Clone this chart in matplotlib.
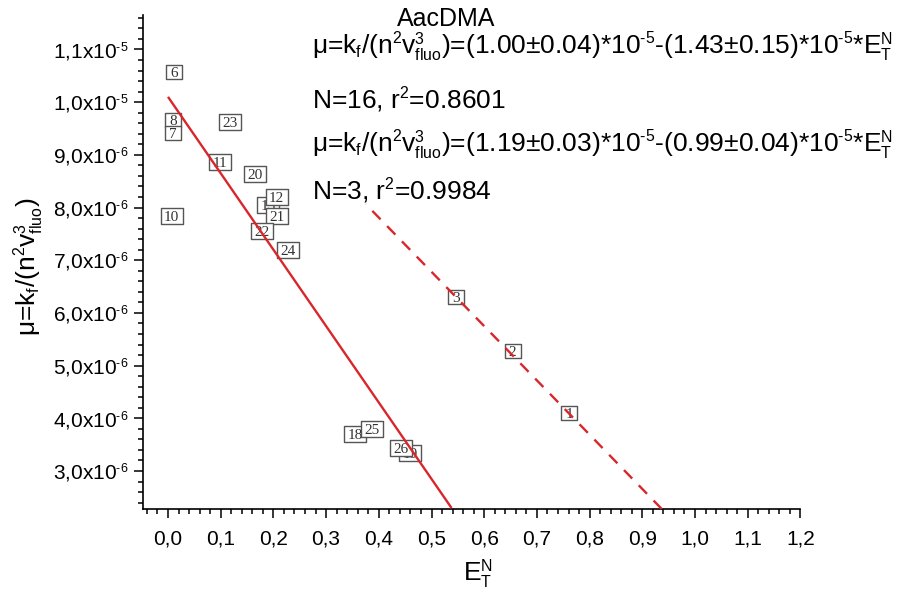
import matplotlib
matplotlib.use("Agg")
import matplotlib.pyplot as plt
from matplotlib.ticker import MultipleLocator, FuncFormatter
from matplotlib.path import Path
import numpy as np
try:
    import matplotlib._mathtext as _mt
    _mt.SHRINK_FACTOR = 0.6
except Exception:
    pass

plt.rcParams['font.family'] = ['Liberation Sans', 'DejaVu Sans']
plt.rcParams['mathtext.fontset'] = 'custom'
plt.rcParams['mathtext.rm'] = 'Liberation Sans'
plt.rcParams['mathtext.it'] = 'Liberation Sans'
plt.rcParams['mathtext.default'] = 'regular'

HY = "\u2010"

# ---- data ----
labels = ['6', '8', '7', '23', '11', '20', '13', '12', '21', '10', '22', '24',
          '18', '25', '19', '26', '3', '2', '1']
et_n = [0.011, 0.009, 0.009, 0.118, 0.099, 0.165, 0.190, 0.206, 0.206, 0.007, 0.179, 0.228,
        0.355, 0.387, 0.459, 0.443, 0.546, 0.654, 0.761]
mu = [1.0575e-5, 9.66e-6, 9.42e-6, 9.63e-6, 8.87e-6, 8.63e-6, 8.05e-6, 8.20e-6, 7.84e-6, 7.84e-6,
      7.55e-6, 7.19e-6, 3.71e-6, 3.79e-6, 3.35e-6, 3.44e-6, 6.31e-6, 5.27e-6, 4.10e-6]

fit1_intercept, fit1_slope = 1.01e-5, -1.45e-5
fit1_x = [0.0, 0.538]
fit2_intercept, fit2_slope = 1.193e-5, -1.03e-5
fit2_x = [0.937, 0.375]

title = "AacDMA"
eq1 = (r"$\mu$=k$_f$/(n$^2$v$^3_{fluo}$)=(1.00$\pm$0.04)*10$^{" + HY + r"5}$-(1.43$\pm$0.15)*10$^{"
       + HY + r"5}$*E$_T^N$")
eq1b = r"N=16, r$^2$=0.8601"
eq2 = (r"$\mu$=k$_f$/(n$^2$v$^3_{fluo}$)=(1.19$\pm$0.03)*10$^{" + HY + r"5}$-(0.99$\pm$0.04)*10$^{"
       + HY + r"5}$*E$_T^N$")
eq2b = r"N=3, r$^2$=0.9984"

fig = plt.figure(figsize=(8.97, 5.93), dpi=100)
ax = fig.add_axes([0.1591, 0.1417, 0.7332, 0.8327])
ax.set_xlim(-0.048, 1.2)
ax.set_ylim(2.28e-6, 1.165e-5)

red = '#d9262b'
sq = Path([(-1, -0.95), (1, -0.95), (1, 0.95), (-1, 0.95), (-1, -0.95)],
          [Path.MOVETO, Path.LINETO, Path.LINETO, Path.LINETO, Path.CLOSEPOLY])
wide = Path([(-1, -0.7), (1, -0.7), (1, 0.7), (-1, 0.7), (-1, -0.7)],
            [Path.MOVETO, Path.LINETO, Path.LINETO, Path.LINETO, Path.CLOSEPOLY])
for i, (lab, x, y) in enumerate(zip(labels, et_n, mu)):
    z = 3 + i * 0.01
    if len(lab) == 1:
        ax.plot([x], [y], marker=sq, ms=11, mfc='white', mec='#555555', mew=1.0, ls='none', zorder=z)
    else:
        ax.plot([x], [y], marker=wide, ms=16, mfc='white', mec='#555555', mew=1.0, ls='none', zorder=z)
    ax.text(x, y, lab, ha='center', va='center_baseline', fontsize=11, family='Liberation Serif',
            color='#333333', zorder=z + 0.005)

x1 = np.array(fit1_x)
ax.plot(x1, fit1_intercept + fit1_slope * x1, color=red, lw=1.7, zorder=5, solid_capstyle='butt')
x2 = np.array(fit2_x)
ax.plot(x2, fit2_intercept + fit2_slope * x2, color=red, lw=1.7, ls=(0, (5, 4)), zorder=5)

for s in ['top', 'right']:
    ax.spines[s].set_visible(False)
for s in ['left', 'bottom']:
    ax.spines[s].set_linewidth(1.2)

ax.xaxis.set_major_locator(MultipleLocator(0.1))
ax.xaxis.set_minor_locator(MultipleLocator(0.02))
ax.yaxis.set_major_locator(MultipleLocator(1e-6))
ax.yaxis.set_minor_locator(MultipleLocator(2e-7))
ax.set_xticks(np.round(np.arange(0, 1.21, 0.1), 1))

ax.xaxis.set_major_formatter(FuncFormatter(lambda v, p: f"{v:.1f}".replace('.', ',')))

def yfmt(v, p):
    if v <= 0:
        return ''
    e = int(np.floor(np.log10(v) + 1e-9))
    m = v / 10**e
    return f"{m:.1f}".replace('.', ',') + r"x10$^{" + HY + f"{-e}" + r"}$"
ax.yaxis.set_major_formatter(FuncFormatter(yfmt))
ax.set_yticks(np.arange(3e-6, 1.11e-5, 1e-6))

ax.tick_params(which='major', direction='out', length=6.5, width=1.1, pad=4)
ax.tick_params(which='minor', direction='out', length=3.5, width=1.1)
ax.tick_params(axis='x', which='major', labelsize=15, pad=8)
ax.tick_params(axis='y', which='major', labelsize=15, pad=4)

ax.set_xlabel(r"E$_T^N$", fontsize=19)
ax.xaxis.set_label_coords((478 - 142.7) / 657.7, (509 - 557) / 493.8)
ax.set_ylabel(r"$\mu$=k$_f$/(n$^2$v$^3_{fluo}$)", fontsize=19)
ax.yaxis.set_label_coords((47 - 142.7) / 657.7, 0.49)

fig.text(446/897, 1 - 19/593, title, ha='center', va='center', fontsize=18)
tx = 312/897
for yy, t in zip([48, 100, 146, 191], [eq1, eq1b, eq2, eq2b]):
    fig.text(tx, 1 - yy/593, t, ha='left', va='center', fontsize=19)

fig.savefig('out.png', dpi=100)
